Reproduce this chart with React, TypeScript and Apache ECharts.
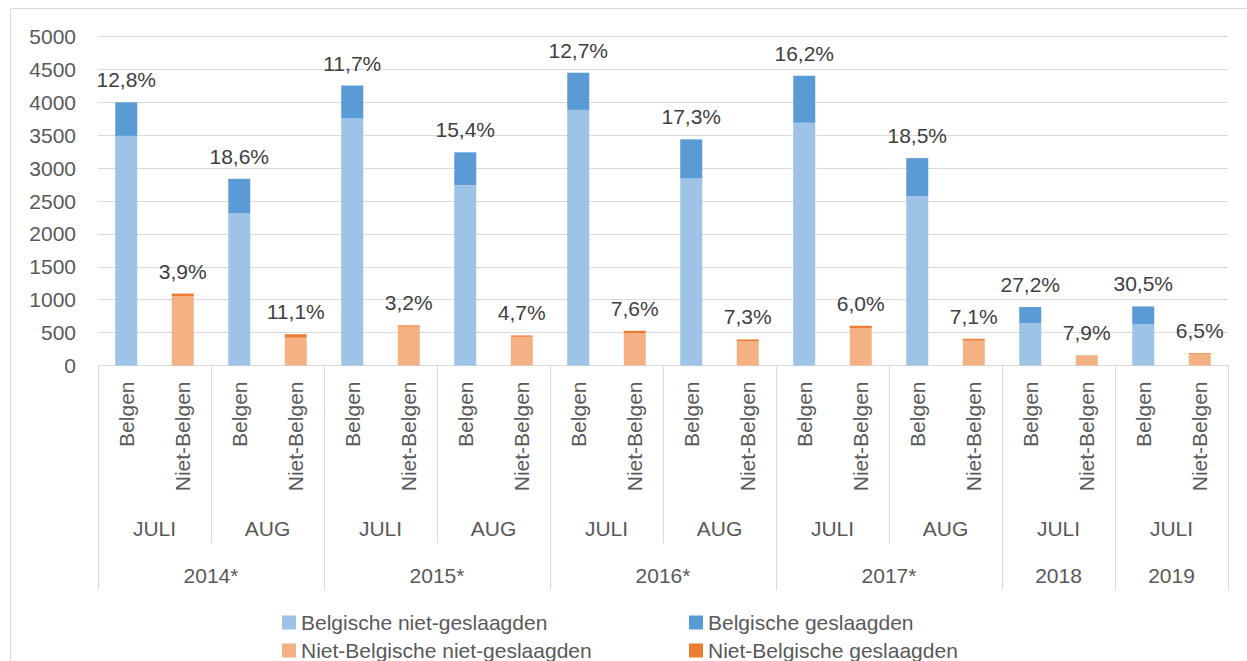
import React, { useEffect, useRef } from "react";
import * as echarts from "echarts";

const categories = [
  "Belgen", "Niet-Belgen", "Belgen", "Niet-Belgen", "Belgen", "Niet-Belgen", "Belgen", "Niet-Belgen",
  "Belgen", "Niet-Belgen", "Belgen", "Niet-Belgen", "Belgen", "Niet-Belgen", "Belgen", "Niet-Belgen",
  "Belgen", "Niet-Belgen", "Belgen", "Niet-Belgen",
];
const months = ["JULI", "AUG", "JULI", "AUG", "JULI", "AUG", "JULI", "AUG", "JULI", "JULI"];
const years = ["2014*", "2015*", "2016*", "2017*", "2018", "2019"];
const yearMonthCounts = [2, 2, 2, 2, 1, 1];

// values per month group (one per bar pair)
const belgNietGeslaagd = [3490, 2310, 3757, 2741, 3885, 2842, 3691, 2569, 646, 624];
const belgGeslaagd = [510, 527, 498, 499, 565, 595, 714, 583, 242, 274];
const nietBelgNietGeslaagd = [1050, 422, 590, 436, 488, 367, 568, 377, 140, 175];
const nietBelgGeslaagd = [43, 53, 20, 21, 40, 29, 36, 29, 12, 12];
const pctBelg = ["12,8%", "18,6%", "11,7%", "15,4%", "12,7%", "17,3%", "16,2%", "18,5%", "27,2%", "30,5%"];
const pctNietBelg = ["3,9%", "11,1%", "3,2%", "4,7%", "7,6%", "7,3%", "6,0%", "7,1%", "7,9%", "6,5%"];

const yTicks = { min: 0, max: 5000, interval: 500 };

const FONT = "'Liberation Sans', Arial, sans-serif";
const GRID_COLOR = "#d9d9d9";
const TEXT = "#595959";
const LABEL = "#404040";

function interleave(a: number[] | null, b: number[] | null): (number | null)[] {
  const out: (number | null)[] = [];
  for (let i = 0; i < months.length; i++) {
    out.push(a ? a[i] : null);
    out.push(b ? b[i] : null);
  }
  return out;
}

export default function App() {
  const ref = useRef<HTMLDivElement>(null);
  useEffect(() => {
    if (!ref.current) return;
    const chart = echarts.init(ref.current, null, { renderer: "svg" });

    const monthStarts = new Set<number>();
    months.forEach((_, i) => monthStarts.add(i * 2));
    const yearStarts = new Set<number>();
    const yearMid: Record<number, string> = {};
    let acc = 0;
    years.forEach((y, i) => {
      const span = yearMonthCounts[i] * 2;
      yearStarts.add(acc);
      yearMid[acc + span / 2] = y;
      acc += span;
    });

    const catAxisCommon = {
      type: "category" as const,
      data: categories,
      position: "bottom" as const,
      gridIndex: 0,
      boundaryGap: true,
    };

    const legendCommon = {
      orient: "vertical" as const,
      top: 612,
      height: 120,
      padding: 0,
      itemWidth: 14,
      itemHeight: 14,
      itemGap: 7,
      selectedMode: false,
      icon: "rect",
      textStyle: { fontSize: 21, color: TEXT, fontFamily: FONT },
    };

    chart.setOption({
      animation: false,
      textStyle: { fontFamily: FONT },
      graphic: [
        {
          type: "rect",
          shape: { x: 10.5, y: 8.5, width: 1400, height: 800 },
          style: { fill: "none", stroke: GRID_COLOR, lineWidth: 1 },
          silent: true,
        },
      ],
      grid: { left: 98, right: 19, top: 36.5, bottom: 295.5, containLabel: false },
      legend: [
        {
          ...legendCommon,
          left: 282,
          data: ["Belgische niet-geslaagden", "Niet-Belgische niet-geslaagden"],
        },
        {
          ...legendCommon,
          left: 689,
          data: ["Belgische geslaagden", "Niet-Belgische geslaagden"],
        },
      ],
      xAxis: [
        {
          ...catAxisCommon,
          axisLine: { show: true, lineStyle: { color: GRID_COLOR, width: 1 } },
          axisTick: {
            show: true,
            length: 177.5,
            interval: (index: number) => monthStarts.has(index),
            lineStyle: { color: GRID_COLOR, width: 1 },
          },
          axisLabel: {
            interval: 0,
            rotate: 90,
            margin: 16,
            fontSize: 21,
            color: TEXT,
            fontFamily: FONT,
          },
        },
        {
          type: "category",
          data: months,
          position: "bottom",
          gridIndex: 0,
          axisLine: { show: false },
          axisTick: { show: false },
          axisLabel: { interval: 0, margin: 152, fontSize: 21, color: TEXT, fontFamily: FONT },
        },
        {
          type: "value",
          position: "bottom",
          gridIndex: 0,
          min: 0,
          max: categories.length,
          interval: 1,
          axisLine: { show: false },
          axisTick: { show: false },
          splitLine: { show: false },
          axisLabel: {
            margin: 199,
            fontSize: 21,
            color: TEXT,
            fontFamily: FONT,
            formatter: (v: number) => yearMid[v] || "",
          },
        },
        {
          ...catAxisCommon,
          axisLine: { show: false },
          axisLabel: { show: false },
          axisTick: {
            show: true,
            length: 224.5,
            interval: (index: number) => yearStarts.has(index),
            lineStyle: { color: GRID_COLOR, width: 1 },
          },
        },
      ],
      yAxis: {
        type: "value",
        min: yTicks.min,
        max: yTicks.max,
        interval: yTicks.interval,
        axisLine: { show: false },
        axisTick: { show: false },
        splitLine: { show: true, lineStyle: { color: GRID_COLOR, width: 1 } },
        axisLabel: {
          fontSize: 21,
          color: TEXT,
          margin: 22,
          fontFamily: FONT,
          formatter: (v: number) => String(v),
        },
      },
      series: [
        {
          name: "Belgische niet-geslaagden",
          type: "bar",
          stack: "total",
          barWidth: 22,
          xAxisIndex: 0,
          itemStyle: { color: "#9dc3e6" },
          data: interleave(belgNietGeslaagd, null),
        },
        {
          name: "Belgische geslaagden",
          type: "bar",
          stack: "total",
          barWidth: 22,
          xAxisIndex: 0,
          itemStyle: { color: "#5b9bd5" },
          data: interleave(belgGeslaagd, null),
          label: {
            show: true,
            position: "top",
            distance: 12,
            fontSize: 21,
            color: LABEL,
            fontFamily: FONT,
            formatter: (p: any) => pctBelg[Math.floor(p.dataIndex / 2)],
          },
        },
        {
          name: "Niet-Belgische niet-geslaagden",
          type: "bar",
          stack: "total",
          barWidth: 22,
          xAxisIndex: 0,
          itemStyle: { color: "#f4b183" },
          data: interleave(null, nietBelgNietGeslaagd),
        },
        {
          name: "Niet-Belgische geslaagden",
          type: "bar",
          stack: "total",
          barWidth: 22,
          xAxisIndex: 0,
          itemStyle: { color: "#ed7d31" },
          data: interleave(null, nietBelgGeslaagd),
          label: {
            show: true,
            position: "top",
            distance: 12,
            fontSize: 21,
            color: LABEL,
            fontFamily: FONT,
            formatter: (p: any) => pctNietBelg[Math.floor(p.dataIndex / 2)],
          },
        },
      ],
    });
    return () => chart.dispose();
  }, []);

  return (
    <div style={{ position: "fixed", left: 0, top: 0, width: 1247, height: 661, background: "#fff" }}>
      <div ref={ref} style={{ width: 1247, height: 661 }} />
    </div>
  );
}
